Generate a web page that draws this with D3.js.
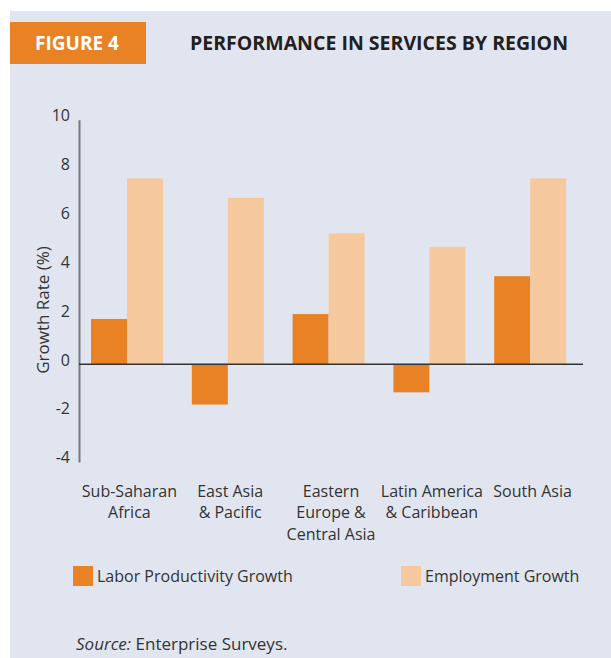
<!DOCTYPE html>
<html>
<head>
<meta charset="utf-8">
<script src="https://cdn.jsdelivr.net/npm/d3@7"></script>
<style>
  body { margin: 0; background: #fff; }
  svg text { font-family: "Open Sans", sans-serif; fill: #333; }
</style>
</head>
<body>
<script>
const regions = [
  ["Sub-Saharan", "Africa"],
  ["East Asia", "& Pacific"],
  ["Eastern", "Europe &", "Central Asia"],
  ["Latin America", "& Caribbean"],
  ["South Asia"]
];
const seriesNames = ["Labor Productivity Growth", "Employment Growth"];
const laborProductivity = [1.85, -1.65, 2.05, -1.15, 3.6];
const employment = [7.6, 6.8, 5.35, 4.8, 7.6];
const yTicks = [-4, -2, 0, 2, 4, 6, 8, 10];

const width = 611, height = 658;
const colors = ["#e88225", "#f6c89e"];
const fs = "16px";

const svg = d3.select("body").append("svg")
  .attr("width", width)
  .attr("height", height);

// panel background
svg.append("rect")
  .attr("x", 10).attr("y", 11)
  .attr("width", width - 10).attr("height", height - 11)
  .attr("fill", "#e1e5f0");

// header
svg.append("rect")
  .attr("x", 10).attr("y", 22)
  .attr("width", 136).attr("height", 42)
  .attr("fill", "#e88225");
svg.append("text")
  .attr("x", 77).attr("y", 50)
  .attr("text-anchor", "middle")
  .style("font-size", "19px").style("font-weight", "700")
  .style("fill", "#fff")
  .text("FIGURE 4");
svg.append("text")
  .attr("x", 190).attr("y", 50)
  .style("font-size", "19px").style("font-weight", "700")
  .style("fill", "#231f20")
  .attr("textLength", 378)
  .attr("lengthAdjust", "spacingAndGlyphs")
  .text("PERFORMANCE IN SERVICES BY REGION");

const y = d3.scaleLinear().domain([-4, 10]).range([462, 119.7]);
const x0 = d3.scaleBand().domain(d3.range(regions.length)).range([79, 583]);
const x1 = d3.scaleBand().domain([0, 1]).range([12, 84]);

const data = regions.map((r, i) => ({ i, values: [laborProductivity[i], employment[i]] }));

const groups = svg.selectAll("g.region")
  .data(data)
  .enter().append("g")
  .attr("class", "region")
  .attr("transform", d => `translate(${x0(d.i)},0)`);

groups.selectAll("rect")
  .data(d => d.values.map((v, k) => ({ v, k })))
  .enter().append("rect")
  .attr("x", d => x1(d.k))
  .attr("width", x1.bandwidth())
  .attr("y", d => y(Math.max(0, d.v)))
  .attr("height", d => Math.abs(y(d.v) - y(0)))
  .attr("fill", d => colors[d.k]);

// y axis
const yAxis = svg.append("g")
  .attr("transform", "translate(79,0)")
  .call(d3.axisLeft(y).tickValues(yTicks).tickSize(0).tickPadding(9)
    .tickFormat(d => String(d)));
yAxis.select(".domain").attr("stroke", "#77787b").attr("stroke-width", 2);
yAxis.selectAll("text")
  .attr("dy", "0.05em")
  .style("font-size", fs)
  .style("font-family", "'Open Sans', sans-serif")
  .style("fill", "#333");

// zero line
svg.append("line")
  .attr("x1", 79).attr("x2", 583)
  .attr("y1", y(0)).attr("y2", y(0))
  .attr("stroke", "#333").attr("stroke-width", 1.5);

svg.append("text")
  .attr("transform", `translate(49,310) rotate(-90)`)
  .attr("text-anchor", "middle")
  .style("font-size", "17px")
  .text("Growth Rate (%)");

// category labels
const labels = svg.selectAll("text.cat")
  .data(regions)
  .enter().append("text")
  .attr("class", "cat")
  .attr("text-anchor", "middle")
  .attr("x", (d, i) => x0(i) + x0.bandwidth() / 2)
  .attr("y", 497)
  .style("font-size", fs);
labels.selectAll("tspan")
  .data(d => d)
  .enter().append("tspan")
  .attr("x", function () { return d3.select(this.parentNode).attr("x"); })
  .attr("dy", (d, i) => i === 0 ? 0 : 21.3)
  .text(d => d);

// legend
const legendX = [73, 401];
const legend = svg.selectAll("g.legend")
  .data(seriesNames)
  .enter().append("g")
  .attr("class", "legend")
  .attr("transform", (d, i) => `translate(${legendX[i]},566)`);
legend.append("rect")
  .attr("width", 20).attr("height", 20)
  .attr("fill", (d, i) => colors[i]);
legend.append("text")
  .attr("x", 24).attr("y", 16)
  .style("font-size", fs)
  .text(d => d);

// source
const src = svg.append("text")
  .attr("x", 76).attr("y", 650)
  .style("font-size", "17px");
src.append("tspan").style("font-style", "italic").text("Source:");
src.append("tspan").text(" Enterprise Surveys.");
</script>
</body>
</html>
